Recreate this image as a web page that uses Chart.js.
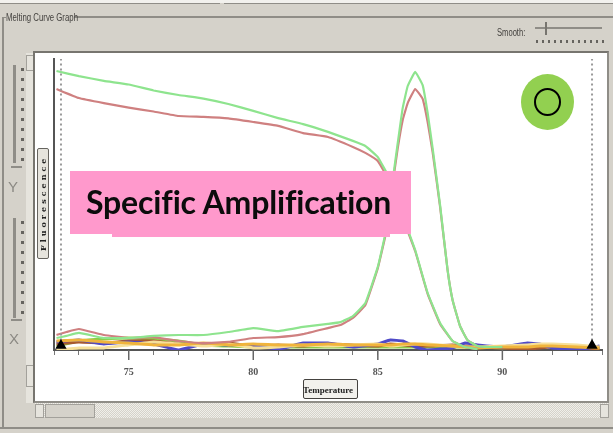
<!DOCTYPE html>
<html>
<head>
<meta charset="utf-8">
<script src="https://cdn.jsdelivr.net/npm/chart.js@4"></script>
<style>
html, body { margin: 0; padding: 0; background: #d5d2ca; overflow: hidden; }
#win { position: relative; width: 613px; height: 433px; overflow: hidden; filter: blur(0.6px); }
#win div { position: absolute; box-sizing: border-box; }
canvas { position: absolute; left: 0; top: 0; }
.line { background: #8f8d87; }
.dots-v { width: 3px; background: repeating-linear-gradient(to bottom, #66645f 0 3px, transparent 3px 10px); }
.dots-h { height: 3px; background: repeating-linear-gradient(to right, #66645f 0 2px, transparent 2px 6px); }
.btn { background: #e6e4dd; border: 1px solid #a3a19b; }
.lab { font-family: "Liberation Sans", sans-serif; color: #44423f; white-space: nowrap; transform-origin: left center; }
</style>
</head>
<body>
<div id="win">
  <div style="left:0;top:0;width:613px;height:3px;background:#f2f1ed"></div>
  <div class="line" style="left:0;top:3px;width:220px;height:1px"></div>
  <div class="line" style="left:224px;top:3px;width:389px;height:1px"></div>
  <div class="line" style="left:74px;top:16px;width:539px;height:2px"></div>
  <div class="line" style="left:2px;top:17px;width:4px;height:1px"></div>
  <div class="line" style="left:2px;top:17px;width:2px;height:411px"></div>
  <div class="line" style="left:0;top:427px;width:613px;height:2px"></div>
  <div class="lab" style="left:6px;top:12px;font-size:10px;transform:scaleX(.78)">Melting Curve Graph</div>

  <div class="lab" style="left:497px;top:27px;font-size:10px;transform:scaleX(.76)">Smooth:</div>
  <div class="line" style="left:535px;top:27px;width:67px;height:2px"></div>
  <div style="left:545px;top:22px;width:2px;height:13px;background:#77756f"></div>
  <div class="dots-h" style="left:536px;top:40px;width:68px"></div>

  <div class="line" style="left:13px;top:65px;width:3px;height:98px"></div>
  <div class="line" style="left:11px;top:166px;width:11px;height:2px"></div>
  <div class="dots-v" style="left:21px;top:68px;height:100px"></div>
  <div class="lab" style="left:8px;top:178px;font-size:15px;color:#8b8983">Y</div>
  <div class="line" style="left:13px;top:218px;width:3px;height:100px"></div>
  <div class="line" style="left:11px;top:319px;width:11px;height:2px"></div>
  <div class="dots-v" style="left:21px;top:221px;height:100px"></div>
  <div class="lab" style="left:9px;top:330px;font-size:15px;color:#8b8983">X</div>

  <div style="left:26px;top:53px;width:9px;height:350px;background:#e6e4dd"></div>
  <div class="btn" style="left:26px;top:55px;width:8px;height:16px"></div>
  <div class="btn" style="left:26px;top:365px;width:8px;height:22px"></div>

  <div style="left:33px;top:51px;width:576px;height:352px;background:#fff;border:2px solid #77756f;border-right-color:#8f8d87;border-bottom-color:#8f8d87"></div>

  <div style="left:35px;top:403px;width:574px;height:15px;background:repeating-conic-gradient(#d5d2ca 0 25%, #f0efea 0 50%) 0 0/2px 2px"></div>
  <div class="btn" style="left:35px;top:404px;width:9px;height:14px"></div>
  <div class="btn" style="left:45px;top:404px;width:50px;height:14px;background:#d5d2ca"></div>
  <div class="btn" style="left:600px;top:404px;width:9px;height:14px"></div>

  <div style="left:37px;top:148px;width:12px;height:111px;background:#e6e4dd;border:1px solid #66645f;border-radius:2px"></div>
  <div style="left:38px;top:149px;width:10px;height:109px;display:flex;align-items:center;justify-content:center;writing-mode:vertical-rl;transform:rotate(180deg);font:bold 8px 'DejaVu Serif',serif;letter-spacing:3px;color:#222;white-space:nowrap">Fluorescence</div>
  <div style="left:303px;top:379px;width:55px;height:20px;background:#f2f1ed;border:1px solid #44423f;border-radius:2px"></div>

  <canvas id="myChart" width="613" height="433"></canvas>

  <div style="left:70px;top:171px;width:341px;height:63px;background:#ff99cc"></div>
  <div style="left:112px;top:230px;width:278px;height:7px;background:#ff99cc"></div>
  <div style="left:86px;top:182px;font:bold 32px Lato, sans-serif;font-variant-ligatures:none;color:#0c0c0c;white-space:nowrap;letter-spacing:-.15px">Specific Amplification</div>

  <div style="left:521px;top:74px;width:53px;height:56px;border-radius:50%;background:#92d050"></div>
  <div style="left:534px;top:88px;width:27px;height:28px;border-radius:50%;border:2px solid #000"></div>
</div>
<script>
var meltTemps = [72.1, 73, 74, 75, 76, 77, 78, 79, 80, 81, 82, 83, 84, 84.5, 85, 85.5, 86, 86.5, 87, 87.5, 88, 88.5, 89];
var meltGreen = [93, 91.3, 89.7, 88.5, 86.5, 85, 83.8, 82, 79.7, 77.3, 75.3, 72.7, 69.7, 68, 64.3, 56.7, 44.7, 33.3, 19, 9, 3, 1, 0.3];
var meltRed = [87, 84, 82.3, 80.8, 79.5, 78, 77.7, 77.2, 76, 74.7, 72.3, 71, 67.7, 65.7, 63, 55.7, 44, 33, 18.7, 8.7, 3, 1, 0.3];

var peakTemps = [72.1, 72.5, 73, 74, 75, 76, 77, 78, 79, 80, 81, 82, 83, 83.5, 84, 84.5, 85, 85.3, 85.6, 85.8, 86, 86.2, 86.5, 86.8, 87, 87.2, 87.5, 87.8, 88, 88.3, 88.6, 89, 89.5, 90];
var peakGreen = [4, 4.7, 5.7, 4, 4, 4.7, 5, 5, 6, 7.3, 6.3, 7.7, 8.7, 9.3, 11.3, 15.7, 27.7, 38.7, 56.7, 69, 80.7, 88, 92.7, 88.3, 79, 67.3, 48.3, 26.7, 16.7, 8, 3.3, 1.3, 1, 1];
var peakRed = [5, 6, 7, 5, 4, 4.3, 3, 2.3, 2.7, 4, 4.3, 5.3, 7.3, 8.3, 10.7, 15, 27.3, 38, 55.7, 67.3, 76.7, 82.3, 87, 83.7, 76, 66, 47.7, 26.7, 16.7, 8, 3.3, 1.3, 1, 1];

var baseTemps = [72.1, 73, 74, 75, 76, 77, 78, 79, 80, 81, 82, 83, 84, 85, 85.5, 86, 86.5, 87, 88, 88.5, 89, 90, 91, 91.5, 92, 93, 93.9];
var baseBlue = [2.7, 3.3, 2, 2.7, 2, 0, 2, 1.7, 1.7, 0.3, 2.3, 2.3, 1, 2, 3.3, 3, 1, 0, 0.7, 2.3, 1.7, 1, 2.3, 2, 0.7, 0, 1.3];
var baseYellow = [0, 0.7, 0.7, 1.7, 2.7, 2, 1.3, 2, 0.7, 1, 1.7, 1.3, 1.7, 2, 1.3, 1.7, 2, 2, 1.3, 1, 1, 1.3, 1.7, 2, 2, 1.7, 1];
var baseOrange = [3, 3.3, 2.7, 2.3, 1.7, 1.7, 2.3, 1.7, 2, 1.7, 1.7, 2, 1.7, 1.7, 1.7, 2, 2, 1.7, 1.3, 1, 0.7, 1, 1, 1.3, 1.3, 1, 0.7];
var baseBrown = [2, 2.7, 2.3, 3, 3, 2, 1.7, 2.3, 1.3, 1.7, 1.3, 2, 1.7, 1.3, 2, 1.7, 1.3, 1.3, 1.7, 1.3, 1, 0.7, 0.3, 0.7, 1, 0.7, 0.3];
var baseOlive = [1.3, 3, 3.7, 4, 3.7, 3, 1.7, 1.3, 1, 1, 1, 1, 1, 1, 1, 1, 1, 1, 1, 1, 1, 0.7, 1, 1, 1.3, 1, 0.7];

var cursorTemps = [72.28, 93.6];
var tickLabels = [75, 80, 85, 90];

function pts(xs, ys) {
    return xs.map(function (x, i) { return { x: x, y: ys[i] }; });
}

function curve(label, xs, ys, color, width) {
    return {
        label: label,
        data: pts(xs, ys),
        borderColor: color,
        borderWidth: width,
        pointRadius: 0,
        tension: 0.1
    };
}

function cursor(temp) {
    return {
        data: [{ x: temp, y: 1.5 }, { x: temp, y: 97 }],
        borderColor: '#999',
        borderWidth: 2,
        borderDash: [2, 3],
        pointStyle: 'triangle',
        pointRadius: [4.5, 0],
        pointBackgroundColor: '#000',
        pointBorderColor: '#000'
    };
}

// long ticks under the labelled temperatures
var majorTicks = {
    id: 'majorTicks',
    afterDraw: function (chart) {
        var g = chart.ctx, s = chart.scales.x;
        g.save();
        g.strokeStyle = '#666';
        g.lineWidth = 1.5;
        tickLabels.forEach(function (t) {
            var px = s.getPixelForValue(t);
            g.beginPath();
            g.moveTo(px, s.top);
            g.lineTo(px, s.top + 10);
            g.stroke();
        });
        g.restore();
    }
};

var ctx = document.getElementById('myChart').getContext('2d');
var myChart = new Chart(ctx, {
    type: 'line',
    data: {
        datasets: [
            cursor(cursorTemps[0]),
            cursor(cursorTemps[1]),
            curve('Melt A', meltTemps, meltGreen, '#8ee48e', 2.2),
            curve('Peak A', peakTemps, peakGreen, '#8ee48e', 2.2),
            curve('Melt B', meltTemps, meltRed, '#cf8080', 2.2),
            curve('Peak B', peakTemps, peakRed, '#cf8080', 2.2),
            curve('Orange', baseTemps, baseOrange, '#f0b43c', 3),
            curve('Yellow', baseTemps, baseYellow, '#f6e09a', 3),
            curve('Blue', baseTemps, baseBlue, '#4f4ac8', 3),
            curve('Brown', baseTemps, baseBrown, '#a85a30', 3),
            curve('Olive', baseTemps, baseOlive, '#8ccc46', 3)
        ]
    },
    options: {
        responsive: false,
        animation: false,
        layout: { padding: { top: 59, right: 5.4, left: 0, bottom: 0 } },
        plugins: {
            legend: { display: false },
            tooltip: { enabled: false }
        },
        scales: {
            x: {
                type: 'linear',
                min: 72,
                max: 94,
                afterFit: function (axis) { axis.height = 83; },
                border: { color: '#555', width: 2 },
                grid: { drawOnChartArea: false, tickLength: 5, tickColor: '#777' },
                ticks: {
                    stepSize: 1,
                    maxRotation: 0,
                    autoSkip: false,
                    padding: 11,
                    color: '#555',
                    font: { family: 'Liberation Serif', size: 10, weight: 'bold' },
                    callback: function (v) { return tickLabels.indexOf(v) >= 0 ? v : ''; }
                },
                title: {
                    display: true,
                    text: 'Temperature',
                    color: '#222',
                    padding: { top: 0, bottom: 37 },
                    font: { family: 'Liberation Serif', size: 9, weight: 'bold' }
                }
            },
            y: {
                min: 0,
                max: 97,
                afterFit: function (axis) { axis.width = 54; },
                border: { color: '#555', width: 2 },
                grid: { display: false },
                ticks: { display: false }
            }
        }
    },
    plugins: [majorTicks]
});
</script>
</body>
</html>
